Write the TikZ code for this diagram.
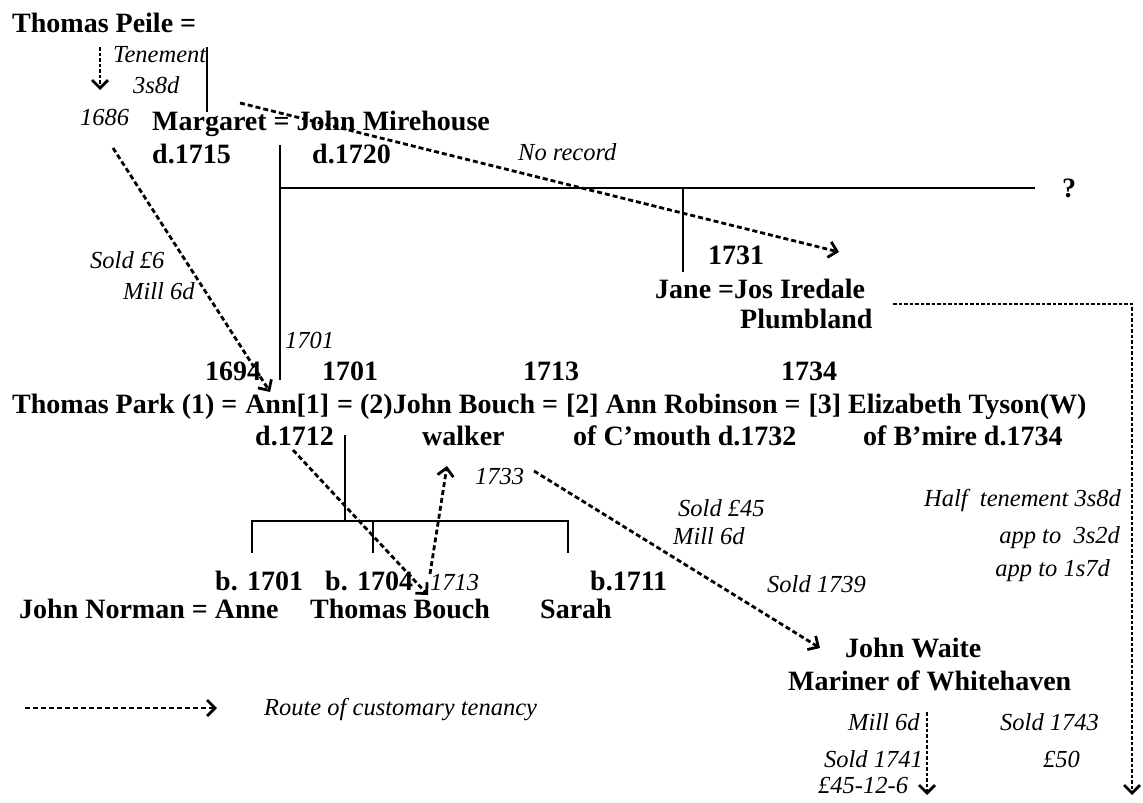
\documentclass[tikz,border=0pt]{standalone}
\usepackage{fontspec}
\setmainfont{Liberation Serif}[BoldFont={Liberation Serif Bold}, ItalicFont={Liberation Serif Italic}]
\usepackage{tikz}
\usetikzlibrary{positioning, arrows.meta}
\tikzstyle{person} = [font=\bfseries\fontsize{28}{32}\selectfont, inner sep=0pt, anchor=base west]
\tikzstyle{note} = [font=\itshape\fontsize{24.5}{28}\selectfont, inner sep=0pt, anchor=base west]
\tikzstyle{noteright} = [note, anchor=base east]
\tikzstyle{tie} = [line width=2.8pt]
\tikzstyle{route} = [line width=2.8pt, dash pattern=on 5pt off 3pt, -{Straight Barb[length=8pt,width=16pt]}]
\tikzstyle{routev} = [route, dash pattern=on 3.5pt off 2pt]

\begin{document}
\begin{tikzpicture}[x=1pt, y=-1pt, node distance=7.5pt]
		\useasboundingbox (0,0) rectangle (1143,803);
		\node (peile) [person] at (12,32) {Thomas Peile =};
		\node (tenement) [note] at (113,62) {Tenement};
		\node (rent) [note] at (133,93) {3s8d};
		\node (yr1686) [note] at (80,125) {1686};
		\node (margaret) [person] at (152,130) {Margaret = John Mirehouse};
		\node (dmarg) [person] at (152,163) {d.1715};
		\node (djohn) [person] at (312,163) {d.1720};
		\node (norecord) [note] at (518,160) {No record};
		\node (qmark) [person] at (1062,197) {?};
		\node (yr1731) [person] at (708,264) {1731};
		\node (jane) [person] at (655,298) {Jane =Jos Iredale};
		\node (plumb) [person] at (740,328) {Plumbland};
		\node (sold6) [note] at (90,268) {Sold £6};
		\node (mill6) [note] at (123,299) {Mill 6d};
		\node (entry1701) [note] at (285,348) {1701};
		\node (yr1694) [person] at (205,380) {1694};
		\node (yr1701) [person] at (322,380) {1701};
		\node (yr1713) [person] at (523,380) {1713};
		\node (yr1734) [person] at (781,380) {1734};
		\node (park) [person] at (12,413) {Thomas Park (1) =};
		\node (ann) [person, base right=of park] {Ann[1]};
		\node (bouch) [person, base right=of ann] {= (2)John Bouch =};
		\node (robinson) [person, base right=of bouch] {[2] Ann Robinson =};
		\node (tyson) [person, base right=of robinson] {[3] Elizabeth Tyson(W)};
		\node (d1712) [person] at (255,445) {d.1712};
		\node (walker) [person] at (422,445) {walker};
		\node (cmouth) [person] at (573,445) {of C’mouth d.1732};
		\node (bmire) [person] at (863,445) {of B’mire d.1734};
		\node (yr1733) [note] at (475,484) {1733};
		\node (sold45) [note] at (678,516) {Sold £45};
		\node (mill45) [note] at (673,544) {Mill 6d};
		\node (half) [noteright] at (1121,506) {Half\ \ tenement 3s8d};
		\node (app1) [noteright] at (1120,543) {app to\ \ 3s2d};
		\node (app2) [noteright] at (1110,576) {app to 1s7d};
		\node (b1701) [person] at (215,590) {b. 1701};
		\node (b1704) [person] at (325,590) {b. 1704};
		\node (entry1713) [note] at (430,590) {1713};
		\node (b1711) [person] at (590,590) {b.1711};
		\node (sold1739) [note] at (767,592) {Sold 1739};
		\node (norman) [person] at (19,618) {John Norman = Anne};
		\node (thomas) [person] at (310,618) {Thomas Bouch};
		\node (sarah) [person] at (540,618) {Sarah};
		\node (waite) [person] at (845,657) {John Waite};
		\node (mariner) [person] at (788,690) {Mariner of Whitehaven};
		\node (legend) [note] at (264,715) {Route of customary tenancy};
		\node (millw) [note] at (848,730) {Mill 6d};
		\node (sold1743) [note] at (1000,730) {Sold 1743};
		\node (sold1741) [noteright] at (923,767) {Sold 1741};
		\node (price50) [note] at (1043,767) {£50};
		\node (price) [note] at (818,793) {£45-12-6};

		\coordinate (mh) at ([shift={(128,15)}]margaret.base west);
		\coordinate (kin) at ([shift={(128,58)}]margaret.base west);
		\coordinate (issue) at ([shift={(90,-10)}]d1712.base west);
		\coordinate (bar) at ([shift={(0,86)}]issue);
		\coordinate (kidA) at ([shift={(233,-65)}]norman.base west);
		\coordinate (kidT) at ([shift={(63,-65)}]thomas.base west);
		\coordinate (kidS) at ([shift={(28,-65)}]sarah.base west);
		\coordinate (halfend) at (1132,795);
		\coordinate (waiteend) at (927,795);

		\draw [tie] ([shift={(195,15)}]peile.base west) -- ([shift={(55,-18)}]margaret.base west);
		\draw [tie] (mh) -- (mh |- yr1694.base);
		\draw [tie] (kin) -- ([xshift=-27pt]kin -| qmark.base west);
		\draw [tie] ([xshift=28pt]kin -| jane.base west) -- ([shift={(28,-26)}]jane.base west);
		\draw [tie] (issue) -- (bar);
		\draw [tie] (kidA) -- (kidA |- bar) -- (kidS |- bar) -- (kidS);
		\draw [tie] (kidT) -- (kidT |- bar);

		\draw [routev] ([shift={(88,15)}]peile.base west) -- ([shift={(20,-35)}]yr1686.base west);
		\draw [route] ([shift={(88,-27)}]margaret.base west) -- ([shift={(184,-46)}]jane.base west);
		\draw [route] ([shift={(33,23)}]yr1686.base west) -- ([shift={(25,-21)}]ann.base west);
		\draw [route] ([shift={(38,5)}]d1712.base west) -- ([shift={(118,-23)}]thomas.base west);
		\draw [route] ([shift={(120,-44)}]thomas.base west) -- ([shift={(25,21)}]walker.base west);
		\draw [route] ([shift={(59,-13)}]yr1733.base west) -- ([shift={(-25,-9)}]waite.base west);
		\draw [routev] ([shift={(238,6)}]jane.base west) -| (halfend);
		\draw [routev] ([shift={(139,22)}]mariner.base west) -- (waiteend);
		\draw [route] ([shift={(-239,-7)}]legend.base west) -- ([shift={(-47,-7)}]legend.base west);
	\end{tikzpicture}
\end{document}
